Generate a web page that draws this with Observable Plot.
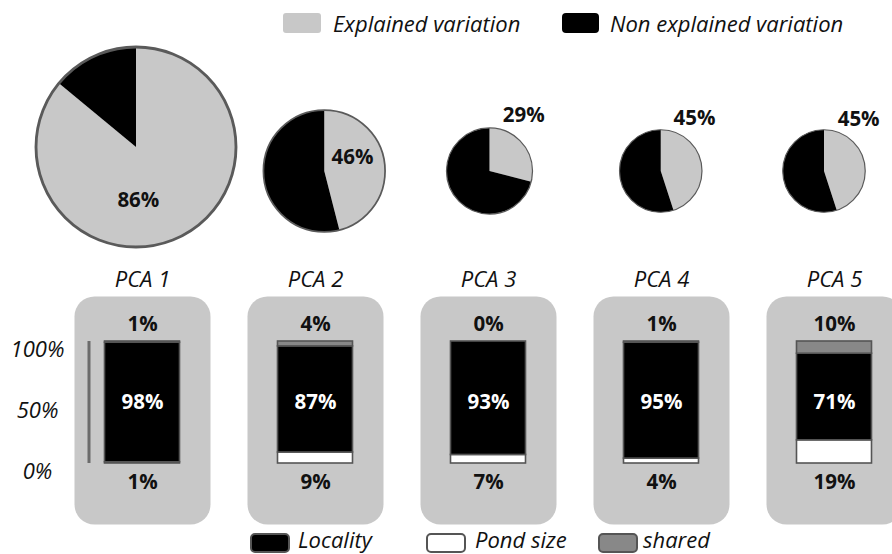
<!DOCTYPE html>
<html>
<head>
<meta charset="utf-8">
<script src="https://cdn.jsdelivr.net/npm/d3@7"></script>
<script src="https://cdn.jsdelivr.net/npm/@observablehq/plot@0.6"></script>
<style>
  html, body { margin: 0; padding: 0; background: #fff; }
  body { width: 892px; height: 554px; overflow: hidden; font-family: "Open Sans", sans-serif; color: #111; }
  #wrap { width: 902px; }
  .legend { position: relative; width: 892px; }
  .sw { position: absolute; box-sizing: border-box; }
  .lt { position: absolute; font-style: italic; font-size: 22px; line-height: 22px; white-space: nowrap; color: #111; }
  svg { display: block; }
</style>
</head>
<body>
<div id="wrap">
  <div class="legend" id="topLegend" style="height:40px"></div>
  <div id="pies"></div>
  <div id="bars"></div>
  <div class="legend" id="bottomLegend" style="height:26px"></div>
</div>
<script>
// ---------------- data ----------------
const pcaNames   = ["PCA 1", "PCA 2", "PCA 3", "PCA 4", "PCA 5"];
const explained  = [86, 46, 29, 45, 45];          // % explained variation (pie)
const pieInertia = [100, 37, 18.5, 17, 17];       // relative weight of each PCA axis (pie area)
const locality   = [98, 87, 93, 95, 71];          // % Locality
const pondSize   = [1, 9, 7, 4, 19];              // % Pond size
const shared     = [1, 4, 0, 1, 10];              // % shared
const yTicks     = [0, 50, 100];
const pieClasses = ["Explained variation", "Non explained variation"];
const components = ["Locality", "Pond size", "shared"];

// ---------------- styles / layout ----------------
const FONT = "Open Sans";
const pieColor = Plot.scale({color: {domain: pieClasses, range: ["#c8c8c8", "#000000"]}});
const barColor = Plot.scale({color: {domain: components, range: ["#000000", "#ffffff", "#888888"]}});
const bandOpts = {domain: pcaNames, paddingInner: 0.215, paddingOuter: 0};
const pieX = Plot.scale({x: {type: "band", ...bandOpts, range: [73, 902]}});
const pieR = Plot.scale({r: {type: "sqrt", domain: [0, 100], range: [0, 100]}});
const pieNudge = [-5, 10, 2, 0, -10];
const pieLabelAt = [[178, 0.53], [63, 0.51], [31, 1.52], [32, 1.52], [33, 1.52]];

const pies = pcaNames.map((pca, i) => {
  const r = pieR.apply(pieInertia[i]);
  const cx = pieX.apply(pca) + pieX.bandwidth / 2 + pieNudge[i];
  const cy = Math.min(131, 207 - r);
  const [a, k] = pieLabelAt[i];
  const t = a * Math.PI / 180;
  return {pca, explained: explained[i], r, cx, cy,
          lx: cx + k * r * Math.sin(t), ly: cy - k * r * Math.cos(t)};
});

function pieMark() {
  const g = d3.create("svg:g");
  for (const p of pies) {
    const arc = d3.arc().innerRadius(0).outerRadius(p.r);
    const end = p.explained / 100 * 2 * Math.PI;
    const gp = g.append("g").attr("transform", `translate(${p.cx},${p.cy})`);
    gp.append("path").attr("d", arc({startAngle: 0, endAngle: end}))
      .attr("fill", pieColor.apply(pieClasses[0]));
    gp.append("path").attr("d", arc({startAngle: end, endAngle: 2 * Math.PI}))
      .attr("fill", pieColor.apply(pieClasses[1]));
    gp.append("circle").attr("r", p.r).attr("fill", "none")
      .attr("stroke", "#5a5a5a").attr("stroke-width", Math.max(1.2, p.r / 35));
  }
  return g.node();
}

const pieSvg = Plot.plot({
  width: 902, height: 215, margin: 0,
  style: {maxWidth: "none", fontFamily: FONT, overflow: "visible", background: "transparent"},
  x: {type: "identity", axis: null},
  y: {type: "identity", axis: null},
  marks: [
    pieMark,
    Plot.text(pies, {x: "lx", y: "ly", text: d => d.explained + "%",
      fontSize: 20.5, fontWeight: "bold", fill: "#111", textAnchor: "middle", lineAnchor: "middle", fontFamily: FONT})
  ]
});
document.getElementById("pies").appendChild(pieSvg);

// ---------------- bars ----------------
const rows = [];
pcaNames.forEach((pca, i) => {
  rows.push({pca, comp: "Pond size", value: pondSize[i]});
  rows.push({pca, comp: "Locality", value: locality[i]});
  rows.push({pca, comp: "shared", value: shared[i]});
});
const summary = pcaNames.map((pca, i) => ({pca, pond: pondSize[i], locality: locality[i], shared: shared[i],
  total: pondSize[i] + locality[i] + shared[i]}));

const barSvg = Plot.plot({
  width: 902, height: 273, marginLeft: 73, marginRight: 0, marginTop: 41, marginBottom: 4,
  style: {maxWidth: "none", fontFamily: FONT, overflow: "visible", background: "transparent"},
  fx: {...bandOpts, axis: null, label: null},
  y: {domain: [0, 100], range: [208, 86], axis: null},
  color: {domain: components, range: ["#000000", "#ffffff", "#888888"]},
  marks: [
    Plot.frame({fill: "#c8c8c8", stroke: "none", rx: 20, ry: 20}),
    Plot.barY([yTicks[yTicks.length - 1]], {fx: () => pcaNames[0], y1: 0, y2: d => d,
      fill: "#6b6b6b", insetLeft: 13.5, insetRight: 119.5}),
    Plot.text(yTicks, {fx: () => pcaNames[0], y: d => d, text: d => d + "%", frameAnchor: "left",
      dx: -37, dy: 8, textAnchor: "middle", fontSize: 22, fontStyle: "italic", fill: "#111", fontFamily: FONT}),
    Plot.barY(rows, {fx: "pca", y: "value", fill: "comp", stroke: "#555", strokeWidth: 1.6,
      insetLeft: 30.5, insetRight: 30.5}),
    Plot.text(pcaNames, {fx: d => d, text: d => d, frameAnchor: "top", lineAnchor: "middle", dy: -17,
      fontSize: 22, fontStyle: "italic", fill: "#111", fontFamily: FONT}),
    Plot.text(summary, {fx: "pca", y: "total", text: d => d.shared + "%", dy: -17, lineAnchor: "middle",
      fontSize: 20.5, fontWeight: "bold", fill: "#111", fontFamily: FONT}),
    Plot.text(summary, {fx: "pca", y: d => d.total / 2, text: d => d.locality + "%", lineAnchor: "middle",
      fontSize: 20.5, fontWeight: "bold", fill: "#fff", fontFamily: FONT}),
    Plot.text(summary, {fx: "pca", y: () => 0, text: d => d.pond + "%", dy: 19, lineAnchor: "middle",
      fontSize: 20.5, fontWeight: "bold", fill: "#111", fontFamily: FONT})
  ]
});
document.getElementById("bars").appendChild(barSvg);

// ---------------- legends ----------------
function addItem(container, x, top, w, h, color, border, radius, textX, textTop, label) {
  const sw = document.createElement("div");
  sw.className = "sw";
  Object.assign(sw.style, {left: x + "px", top: top + "px", width: w + "px", height: h + "px",
    background: color, border: border, borderRadius: radius + "px"});
  container.appendChild(sw);
  const t = document.createElement("div");
  t.className = "lt";
  t.style.left = textX + "px";
  t.style.top = textTop + "px";
  t.textContent = label;
  container.appendChild(t);
}
const topL = document.getElementById("topLegend");
addItem(topL, 283, 13, 38, 20, pieColor.apply(pieClasses[0]), "none", 3, 333, 12, pieClasses[0]);
addItem(topL, 562, 13, 37, 20, pieColor.apply(pieClasses[1]), "none", 4, 610, 12, pieClasses[1]);
const botL = document.getElementById("bottomLegend");
const bx = [[250, 298], [426, 475], [598, 643]];
components.forEach((c, i) => {
  addItem(botL, bx[i][0], 5, 40, 20, barColor.apply(c), "2px solid #555", 5, bx[i][1], 0, c);
});
</script>
</body>
</html>
